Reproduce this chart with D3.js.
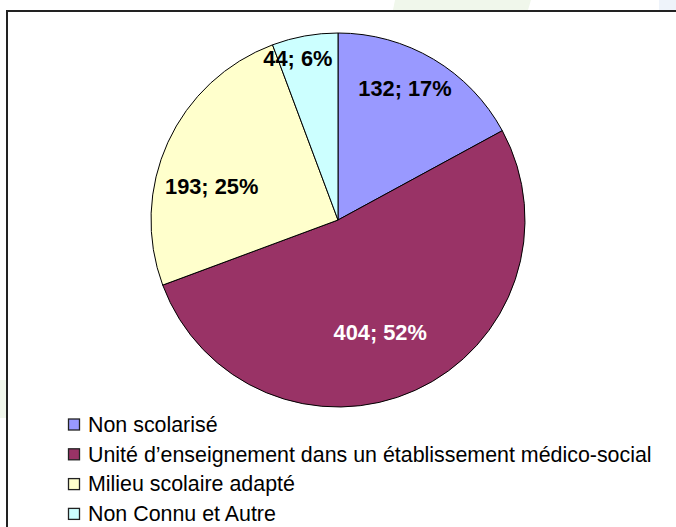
<!DOCTYPE html>
<html>
<head>
<meta charset="utf-8">
<script src="https://cdn.jsdelivr.net/npm/d3@7"></script>
<style>
  body { margin: 0; background: #fff; }
  svg { display: block; }
</style>
</head>
<body>
<script>
const WIDTH_SVG = 676;
const HEIGHT_SVG = 527;

// Data
const categories = [
    "Non scolarisé",
    "Unité d\u2019enseignement dans un établissement médico-social",
    "Milieu scolaire adapté",
    "Non Connu et Autre"
];
const values = [132, 404, 193, 44];
const colors = ["#9999FF", "#993366", "#FFFFCC", "#CCFFFF"];
const labelColors = ["#000", "#fff", "#000", "#000"];

const CX = 338;
const CY = 220;
const RADIUS = 187;
// label placement tweaks: fraction of radius, and angle shift in degrees
const LABEL_R = [0.79, 0.64, 0.70, 0.89];
const LABEL_SHIFT = [-3.8, 3.8, -9.4, -3.7];

const LEGEND_X = 68;
const LEGEND_Y = 424.5;
const LEGEND_STEP = 29.8;
const SWATCH = 11;

const svg = d3.select("body")
    .append("svg")
        .attr("width", WIDTH_SVG)
        .attr("height", HEIGHT_SVG);

// faint background shapes behind the frame
svg.append("polygon")
    .attr("points", "395,0 531,0 528,10 393,10")
    .attr("fill", "#f0f7eb");
svg.append("rect")
    .attr("x", 659).attr("y", 0).attr("width", 17).attr("height", 10)
    .attr("fill", "#eef3fa");
svg.append("rect")
    .attr("x", 0).attr("y", 380).attr("width", 6).attr("height", 38)
    .attr("fill", "#f1f7ec");

// frame
svg.append("rect")
    .attr("x", 7)
    .attr("y", 11)
    .attr("width", WIDTH_SVG)
    .attr("height", HEIGHT_SVG)
    .attr("fill", "#fff")
    .attr("stroke", "#222")
    .attr("stroke-width", 2);

const total = d3.sum(values);
const pie = d3.pie().sort(null).value(d => d);
const arcs = pie(values);
const arc = d3.arc().innerRadius(0).outerRadius(RADIUS);

const g = svg.append("g").attr("transform", `translate(${CX},${CY})`);

g.selectAll("path")
    .data(arcs)
    .join("path")
        .attr("d", arc)
        .attr("fill", (d, i) => colors[i])
        .attr("stroke", "#000")
        .attr("stroke-width", 1)
        .attr("stroke-linejoin", "round");

g.selectAll("text")
    .data(arcs)
    .join("text")
        .attr("transform", (d, i) => {
            const a = (d.startAngle + d.endAngle) / 2 + LABEL_SHIFT[i] * Math.PI / 180;
            const r = RADIUS * LABEL_R[i];
            return `translate(${r * Math.sin(a)},${-r * Math.cos(a)})`;
        })
        .attr("text-anchor", "middle")
        .attr("dy", "0.36em")
        .attr("font-family", "Liberation Sans, Arial, sans-serif")
        .attr("font-weight", "bold")
        .attr("font-size", 21.8)
        .attr("fill", (d, i) => labelColors[i])
        .text(d => `${d.value}; ${Math.round(d.value / total * 100)}%`);

// legend
const legend = svg.append("g");
const item = legend.selectAll("g")
    .data(categories)
    .join("g")
        .attr("transform", (d, i) => `translate(${LEGEND_X},${LEGEND_Y + i * LEGEND_STEP})`);

item.append("rect")
    .attr("x", 0.5)
    .attr("y", -SWATCH / 2)
    .attr("width", SWATCH)
    .attr("height", SWATCH)
    .attr("fill", (d, i) => colors[i])
    .attr("stroke", "#222")
    .attr("stroke-width", 1.3);

item.append("text")
    .attr("x", 20)
    .attr("dy", "0.34em")
    .attr("font-family", "Liberation Sans, Arial, sans-serif")
    .attr("font-size", 21.4)
    .attr("fill", "#000")
    .text(d => d);
</script>
</body>
</html>
